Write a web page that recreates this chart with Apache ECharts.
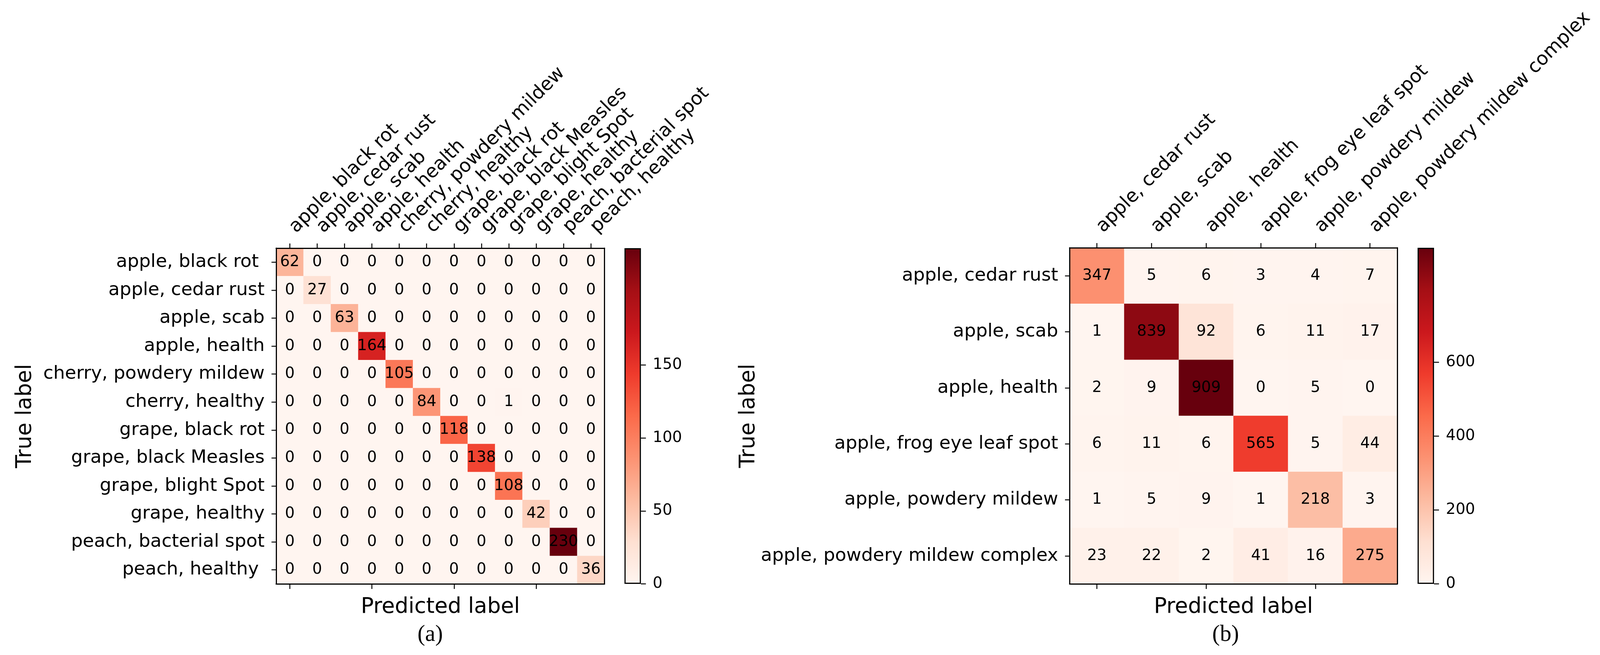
<!DOCTYPE html>
<html>
<head>
<meta charset="utf-8">
<script src="https://cdn.jsdelivr.net/npm/echarts@6/dist/echarts.min.js"></script>
<style>
  html, body { margin: 0; padding: 0; background: #fff; overflow: hidden; }
  #chart { width: 100vw; height: 100vh; }
</style>
</head>
<body>
<div id="chart"></div>
<script>
// ---------- data ----------
const categoriesA = [
  "apple, black rot ", "apple, cedar rust", "apple, scab", "apple, health",
  "cherry, powdery mildew", "cherry, healthy", "grape, black rot",
  "grape, black Measles", "grape, blight Spot", "grape, healthy",
  "peach, bacterial spot", "peach, healthy "
];
const matrixA = [
  [62, 0, 0, 0, 0, 0, 0, 0, 0, 0, 0, 0],
  [0, 27, 0, 0, 0, 0, 0, 0, 0, 0, 0, 0],
  [0, 0, 63, 0, 0, 0, 0, 0, 0, 0, 0, 0],
  [0, 0, 0, 164, 0, 0, 0, 0, 0, 0, 0, 0],
  [0, 0, 0, 0, 105, 0, 0, 0, 0, 0, 0, 0],
  [0, 0, 0, 0, 0, 84, 0, 0, 1, 0, 0, 0],
  [0, 0, 0, 0, 0, 0, 118, 0, 0, 0, 0, 0],
  [0, 0, 0, 0, 0, 0, 0, 138, 0, 0, 0, 0],
  [0, 0, 0, 0, 0, 0, 0, 0, 108, 0, 0, 0],
  [0, 0, 0, 0, 0, 0, 0, 0, 0, 42, 0, 0],
  [0, 0, 0, 0, 0, 0, 0, 0, 0, 0, 230, 0],
  [0, 0, 0, 0, 0, 0, 0, 0, 0, 0, 0, 36]
];
const colorbarTicksA = [0, 50, 100, 150, 200];

const categoriesB = [
  "apple, cedar rust", "apple, scab", "apple, health",
  "apple, frog eye leaf spot", "apple, powdery mildew",
  "apple, powdery mildew complex"
];
const matrixB = [
  [347, 5, 6, 3, 4, 7],
  [1, 839, 92, 6, 11, 17],
  [2, 9, 909, 0, 5, 0],
  [6, 11, 6, 565, 5, 44],
  [1, 5, 9, 1, 218, 3],
  [23, 22, 2, 41, 16, 275]
];
const colorbarTicksB = [0, 200, 400, 600, 800];

const xTitle = "Predicted label";
const yTitle = "True label";
const captions = ["(a)", "(b)"];

// matplotlib "Reds" colormap anchors
const reds = ["#fff5f0", "#fee0d2", "#fcbba1", "#fc9272", "#fb6a4a",
              "#ef3b2c", "#cb181d", "#a50f15", "#67000d"];

// ---------- layout scaling (design size 4184 x 1676, fitted to the real viewport) ----------
const el = document.getElementById("chart");
const VW = el.clientWidth || 4184, VH = el.clientHeight || 1676;
const sx = VW / 4184, sy = VH / 1676, sf = Math.min(sx, sy);
const X = v => v * sx, Y = v => v * sy, F = v => v * sf;

const FONT = "DejaVu Sans";
const BLACK = "#000";

function toCells(matrix) {
  const out = [];
  matrix.forEach((row, r) => row.forEach((v, c) => out.push([c, r, v])));
  return out;
}
function matMax(matrix) {
  return Math.max.apply(null, matrix.map(r => Math.max.apply(null, r)));
}

const option = {
  backgroundColor: "#fff", animation: false,
  grid: [], xAxis: [], yAxis: [], series: [], visualMap: [], graphic: []
};

function addPanel(cats, matrix, ticks, tickStep, layout) {
  const gi = option.grid.length;
  const maxVal = matMax(matrix);
  option.grid.push({ left: X(layout.left), top: Y(layout.top), width: X(layout.width), height: Y(layout.height),
                     outerBoundsMode: "none", containLabel: false });
  option.grid.push({ left: X(layout.cbLeft), top: Y(layout.top), width: X(layout.cbWidth), height: Y(layout.height),
                     outerBoundsMode: "none", containLabel: false });
  const lineStyle = { color: BLACK, width: F(3) };
  const tickStyle = { color: BLACK, width: F(2.5) };

  const xTop = option.xAxis.length;
  option.xAxis.push({
    gridIndex: gi, type: "category", position: "top", data: cats, z: 10,
    axisLine: { show: true, lineStyle: lineStyle },
    axisTick: { show: true, alignWithLabel: true, inside: false, length: Y(12), lineStyle: tickStyle },
    axisLabel: { show: true, interval: 0, rotate: -45, align: "left", verticalAlign: "bottom",
                 margin: Y(5), padding: [0, 0, 0, F(35)],
                 fontSize: F(49), color: BLACK, fontFamily: FONT },
    splitLine: { show: false }
  });
  option.xAxis.push({
    gridIndex: gi, type: "category", position: "bottom", data: cats, z: 10,
    axisLine: { show: true, lineStyle: lineStyle },
    axisTick: { show: true, alignWithLabel: true, inside: false, length: Y(13), lineStyle: tickStyle },
    axisLabel: { show: false }, splitLine: { show: false },
    name: xTitle, nameLocation: "middle", nameGap: Y(layout.xNameGap),
    nameTextStyle: { fontSize: F(56), color: BLACK, fontFamily: FONT }
  });
  const yLeft = option.yAxis.length;
  option.yAxis.push({
    gridIndex: gi, type: "category", position: "left", data: cats, inverse: true, z: 10,
    axisLine: { show: true, lineStyle: lineStyle },
    axisTick: { show: true, alignWithLabel: true, inside: false, length: X(12), lineStyle: tickStyle },
    axisLabel: { show: true, interval: 0, margin: X(30), fontSize: F(48), color: BLACK, fontFamily: FONT },
    splitLine: { show: false },
    name: yTitle, nameLocation: "middle", nameRotate: 90, nameGap: X(layout.yNameGap),
    nameTextStyle: { fontSize: F(56), color: BLACK, fontFamily: FONT }
  });
  option.yAxis.push({
    gridIndex: gi, type: "category", position: "right", data: cats, inverse: true, z: 10,
    axisLine: { show: true, lineStyle: lineStyle },
    axisTick: { show: false }, axisLabel: { show: false }, splitLine: { show: false }
  });

  const si = option.series.length;
  option.series.push({
    type: "heatmap", xAxisIndex: xTop, yAxisIndex: yLeft, data: toCells(matrix),
    label: { show: true, fontSize: F(40), color: BLACK, fontFamily: FONT },
    emphasis: { disabled: true }, z: 2
  });
  option.visualMap.push({
    type: "continuous", show: false, seriesIndex: si, min: 0, max: maxVal,
    dimension: 2, inRange: { color: reds }
  });

  const cbX = option.xAxis.length;
  option.xAxis.push({
    gridIndex: gi + 1, type: "category", data: [""],
    axisLine: { show: false }, axisTick: { show: false }, axisLabel: { show: false },
    splitLine: { show: false }
  });
  const cbY = option.yAxis.length;
  option.yAxis.push({
    gridIndex: gi + 1, type: "value", position: "right", min: 0, max: maxVal, interval: tickStep, z: 10,
    axisLine: { show: false },
    axisTick: { show: true, inside: false, length: X(13), lineStyle: tickStyle, customValues: ticks },
    axisLabel: { show: true, margin: X(31), fontSize: F(40), color: BLACK, fontFamily: FONT,
                 customValues: ticks, showMaxLabel: false },
    splitLine: { show: false }
  });
  const stops = reds.map((c, i) => ({ offset: i / (reds.length - 1), color: c }));
  option.series.push({
    type: "bar", xAxisIndex: cbX, yAxisIndex: cbY, data: [maxVal],
    barWidth: "100%", silent: true,
    itemStyle: {
      color: new echarts.graphic.LinearGradient(0, 1, 0, 0, stops),
      borderColor: BLACK, borderWidth: F(3)
    }
  });
}

addPanel(categoriesA, matrixA, colorbarTicksA, 50, {
  left: 722, top: 635, width: 859, height: 859, cbLeft: 1633, cbWidth: 43,
  xNameGap: 32, yNameGap: 628
});
addPanel(categoriesB, matrixB, colorbarTicksB, 200, {
  left: 2797, top: 634, width: 857, height: 860, cbLeft: 3707, cbWidth: 43,
  xNameGap: 32, yNameGap: 807
});

[[1125, captions[0]], [3205, captions[1]]].forEach(([x, t]) => {
  option.graphic.push({
    type: "text", x: X(x), y: Y(1625),
    style: { text: t, fontSize: F(60), fontFamily: "Liberation Serif", fill: BLACK,
             textAlign: "center", textVerticalAlign: "middle" }
  });
});

const chart = echarts.init(el, null, { renderer: "canvas" });
chart.setOption(option);
</script>
</body>
</html>
